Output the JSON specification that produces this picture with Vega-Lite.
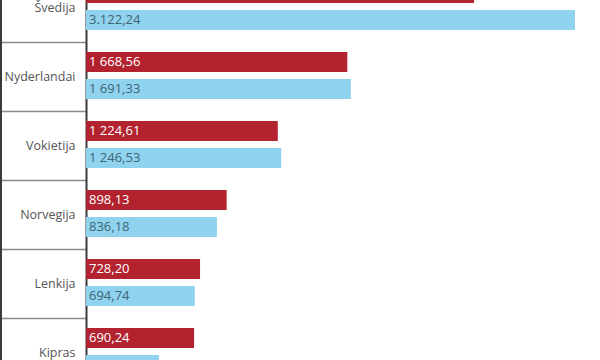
{
  "$schema": "https://vega.github.io/schema/vega-lite/v6.json",
  "width": 514,
  "height": 414,
  "autosize": "none",
  "padding": {"left": 86, "top": -27, "right": 0, "bottom": 0},
  "background": "white",
  "config": {"view": {"stroke": null}, "font": "Open Sans"},
  "data": {
    "values": [
      {"country": "Švedija", "series": "s1", "value": 2478, "label": ""},
      {"country": "Švedija", "series": "s2", "value": 3122.24, "label": "3.122,24"},
      {"country": "Nyderlandai", "series": "s1", "value": 1668.56, "label": "1 668,56"},
      {"country": "Nyderlandai", "series": "s2", "value": 1691.33, "label": "1 691,33"},
      {"country": "Vokietija", "series": "s1", "value": 1224.61, "label": "1 224,61"},
      {"country": "Vokietija", "series": "s2", "value": 1246.53, "label": "1 246,53"},
      {"country": "Norvegija", "series": "s1", "value": 898.13, "label": "898,13"},
      {"country": "Norvegija", "series": "s2", "value": 836.18, "label": "836,18"},
      {"country": "Lenkija", "series": "s1", "value": 728.20, "label": "728,20"},
      {"country": "Lenkija", "series": "s2", "value": 694.74, "label": "694,74"},
      {"country": "Kipras", "series": "s1", "value": 690.24, "label": "690,24"},
      {"country": "Kipras", "series": "s2", "value": 466, "label": "466,00"}
    ]
  },
  "layer": [
    {
      "mark": {"type": "bar"},
      "encoding": {
        "y": {
          "field": "country",
          "type": "nominal",
          "sort": ["Švedija", "Nyderlandai", "Vokietija", "Norvegija", "Lenkija", "Kipras"],
          "scale": {"paddingInner": 0, "paddingOuter": 0},
          "axis": {
            "title": null,
            "tickBand": "extent",
            "tickSize": 86,
            "tickColor": "#8a8a8a",
            "tickWidth": 1.5,
            "domainColor": "#3a3a3a",
            "domainWidth": 2,
            "labelPadding": -75,
            "labelAlign": "right",
            "labelFontSize": 12.5,
            "labelColor": "#555555",
            "labelFont": "Open Sans"
          }
        },
        "yOffset": {
          "field": "series",
          "type": "nominal",
          "scale": {"paddingInner": 0.259, "paddingOuter": 0.407, "align": 0.4545}
        },
        "x": {
          "field": "value",
          "type": "quantitative",
          "scale": {"domain": [0, 3282], "nice": false, "zero": true},
          "axis": null
        },
        "color": {
          "field": "series",
          "type": "nominal",
          "scale": {"domain": ["s1", "s2"], "range": ["#b2222f", "#8fd3ee"]},
          "legend": null
        }
      }
    },
    {
      "mark": {"type": "text", "align": "left", "baseline": "middle", "dx": 3, "fontSize": 13, "font": "Open Sans"},
      "encoding": {
        "y": {
          "field": "country",
          "type": "nominal",
          "sort": ["Švedija", "Nyderlandai", "Vokietija", "Norvegija", "Lenkija", "Kipras"]
        },
        "yOffset": {"field": "series", "type": "nominal"},
        "x": {"datum": 0, "type": "quantitative"},
        "text": {"field": "label"},
        "color": {
          "field": "series",
          "type": "nominal",
          "scale": {"domain": ["s1", "s2"], "range": ["#ffffff", "#3f6475"]},
          "legend": null
        }
      }
    },
    {
      "mark": {"type": "rule", "color": "#3a3a3a", "strokeWidth": 2, "xOffset": -85},
      "encoding": {
        "x": {"datum": 0, "type": "quantitative"}
      }
    }
  ],
  "resolve": {"scale": {"color": "independent"}}
}
